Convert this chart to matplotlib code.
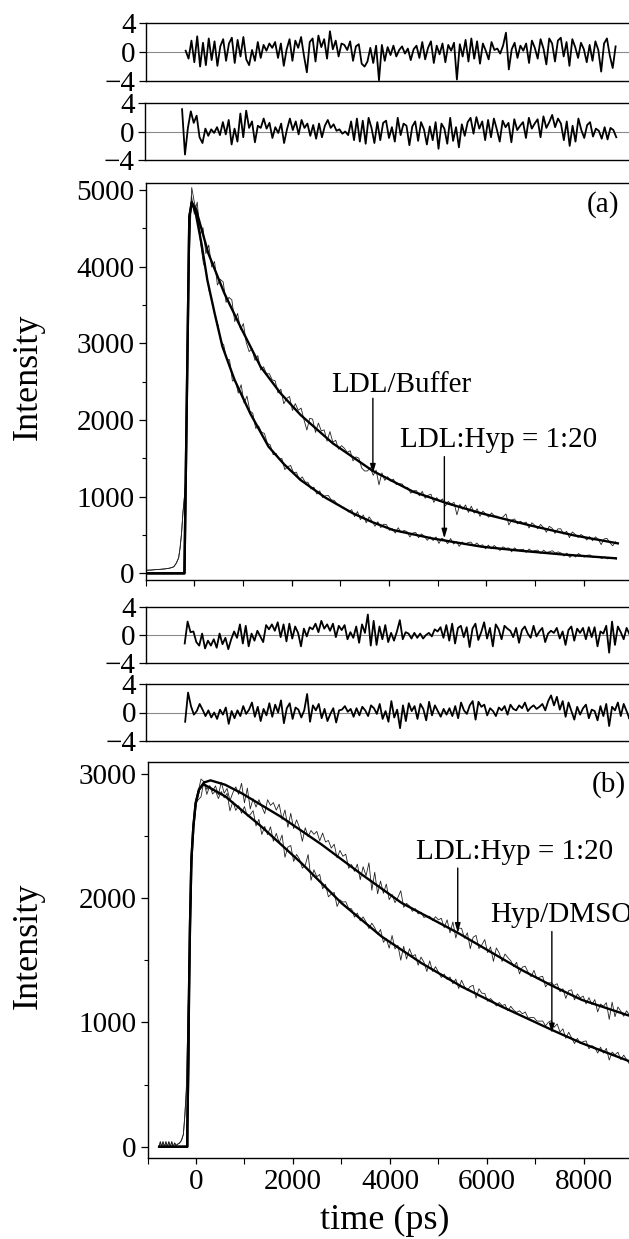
import numpy as np
import matplotlib
matplotlib.use("Agg")
import matplotlib.pyplot as plt
from matplotlib.ticker import MultipleLocator, FixedLocator

plt.rcParams['font.family'] = ['Liberation Serif', 'DejaVu Serif']

# ---------------- data ----------------
# Panel (a): fitted decays (time in ps, intensity in counts)
fit_a_t_upper = [-1000, -200, -100, -50, 41, 290, 620, 949, 1362, 1774, 2186, 2846, 3670, 4496, 5200, 5897, 6900, 7800, 8701]
fit_a_upper = [0, 0, 4650, 4840, 4739, 4174, 3652, 3217, 2696, 2348, 2065, 1696, 1335, 1065, 912, 783, 625, 495, 391]
fit_a_t_lower = [-1000, -200, -100, -50, 30, 150, 270, 420, 580, 830, 1150, 1527, 1850, 2186, 2700, 3259, 3650, 4083, 4900, 5897, 6714, 7600, 8660]
fit_a_lower = [0, 0, 4650, 4840, 4700, 4300, 3826, 3391, 2957, 2522, 2087, 1652, 1420, 1217, 985, 783, 670, 565, 454, 348, 294, 244, 196]
# Panel (a): measured counts before the excitation rise
pre_a_t = [-1000, -900, -800, -700, -600, -500, -420, -370, -320, -290, -260, -230, -200]
pre_a = [40, 42, 48, 52, 58, 68, 85, 130, 200, 330, 520, 800, 1000]

# Weighted residuals, panel (a) (top: LDL/Buffer, second: LDL:Hyp = 1:20)
res1_span = (-175, 8655)
res1 = [0.2, -0.9, 1.6, -1.4, 2.2, -2.0, 1.3, -1.8, 1.9, -1.1,
        1.5, -1.9, 0.8, 1.8, -1.2, 1.2, 2.0, -1.5, 1.7, -0.6,
        2.1, -1.0, -1.8, 0.3, -1.2, 1.4, -0.8, 1.0, 0.2, 1.2,
        0.6, 1.4, -0.8, 1.2, -1.9, 0.4, 1.8, -1.2, 1.6, 0.6,
        2.1, -0.5, -2.8, 1.4, 1.9, -1.3, 2.3, 0.7, 1.8, -0.9,
        2.9, 0.4, 1.6, -0.6, 1.2, 1.0, 0.3, 1.5, -1.2, 0.8,
        1.1, -1.6, -2.0, -1.3, 0.6, -1.5, 0.9, -3.9, 1.0, -1.2,
        0.7, -0.4, 0.9, -0.6, 0.3, 0.8, -0.2, 0.5, -1.1, 0.4,
        0.9, -0.8, 1.4, -1.0, 0.6, 1.5, -1.5, 0.9, -0.3, 1.2,
        -1.4, 1.0, 0.2, 1.3, -3.8, 1.1, -0.6, 1.7, -1.3, 1.9,
        -0.9, 1.5, -1.6, 1.2, 0.2, -1.0, 1.4, 0.3, 0.5, -0.2,
        0.9, 2.7, -2.4, 0.4, 1.3, -0.8, 0.9, 0.2, 1.2, -1.5,
        1.6, 0.6, -0.9, 1.8, 0.5, -1.7, 1.9, 1.2, -1.3, 1.6,
        2.0, -0.6, 1.4, -1.9, 1.8, 0.7, -0.8, 1.3, 0.4, -1.4,
        1.0, -1.2, 1.5, 0.3, -2.7, 1.2, 1.9, -0.5, -2.2, 0.8]
res2_span = (-230, 8670)
res2 = [3.1, -3.2, 0.5, 2.8, 1.2, 2.2, -0.8, -1.6, 0.4, -0.6,
        0.3, -0.2, 0.6, -0.5, 1.3, -0.4, 1.6, -1.8, 0.4, -1.4,
        2.5, -0.8, 2.9, 0.5, 1.4, -1.5, 0.8, 0.5, 1.8, 0.4,
        1.2, -0.9, 0.6, -0.2, 1.1, -1.6, 0.3, 1.8, 0.2, 1.4,
        -0.4, 1.6, 0.5, 1.1, -0.6, 0.9, -1.0, 1.1, -0.8, 0.8,
        1.6, 0.5, 1.0, 0.1, 0.3, -0.3, 0.0, -0.5, 1.4, -1.2,
        1.8, -1.4, 1.5, -1.7, 1.9, 0.5, -1.6, 1.3, -1.2, 1.2,
        1.5, -0.9, 0.6, -1.4, 1.9, -0.5, 1.1, 0.8, -1.9, 0.7,
        1.4, -1.3, 1.3, 0.3, -1.8, 0.7, -1.2, 1.3, -2.4, 1.1,
        0.4, -1.7, 1.9, -1.3, 0.6, -2.2, 1.0, -0.6, 1.3, 1.9,
        -0.3, 2.0, 0.4, 1.4, -1.2, 1.6, -0.8, 1.8, 0.3, -1.4,
        1.5, 0.6, 1.2, -1.5, 1.7, 0.2, 0.8, 1.3, -0.9, 1.9,
        0.4, 1.1, 1.7, -0.8, 2.1, 0.5, 1.3, 2.3, 0.6, 1.8,
        1.1, -1.2, 1.4, -2.0, 0.8, -1.4, 1.8, 0.2, -0.9, 0.9,
        1.3, -0.7, 0.4, 0.1, -1.0, 0.6, -1.1, 0.5, 0.2, -0.8]

# Panel (b): fitted decays
fit_b_t_upper = [-760, -180, -178, -157, -144, -124, -95, -54, -6, 62, 165, 300, 600, 935, 1761, 2588, 3414, 4240, 5397, 6720, 7339, 7958, 9000]
fit_b_upper = [0, 0, 150, 698, 1234, 1770, 2306, 2574, 2763, 2870, 2928, 2945, 2910, 2843, 2650, 2430, 2190, 1960, 1720, 1420, 1295, 1180, 1045]
fit_b_t_lower = [-760, -180, -178, -157, -144, -124, -95, -54, -6, 62, 150, 604, 1348, 2174, 3002, 3827, 4654, 5480, 6306, 7339, 7958, 9000]
fit_b_lower = [0, 0, 150, 698, 1234, 1770, 2306, 2574, 2763, 2870, 2915, 2816, 2574, 2280, 1958, 1690, 1475, 1287, 1126, 939, 832, 678]
pre_b_t = [-760, -735, -710, -680, -650, -620, -590, -560, -530, -500, -470, -440, -410, -380, -340, -300, -260, -230, -200]
pre_b = [0, 40, 0, 40, 0, 40, 0, 40, 0, 40, 0, 30, 10, 20, 30, 50, 100, 250, 450]

# Weighted residuals, panel (b) (third: LDL:Hyp = 1:20, fourth: Hyp/DMSO)
res3_span = (-195, 9000)
res3 = [-1.2, 1.9, 0.4, 0.5, -1.0, -1.5, 0.2, -1.9, -0.8, -1.5,
        -0.6, -1.8, 0.2, -1.3, -0.4, -2.0, -0.6, 0.5, -0.4, 1.5,
        -1.2, 1.3, -1.6, 0.2, -0.8, 0.6, -0.2, -1.0, 1.4, 0.8,
        1.5, 0.6, 1.8, -0.3, 1.5, -0.9, 1.6, -0.5, 1.2, 0.3,
        -1.6, 0.9, -0.2, 1.1, 0.8, 1.6, 0.4, 2.0, 0.9, 1.5,
        0.6, 1.6, -0.3, 1.3, 0.7, 1.4, -0.6, 0.4, -0.4, 1.2,
        -1.1, 1.5, 0.3, 2.9, -1.5, 2.0, -1.4, 1.2, -0.6, 1.4,
        -1.0, 0.3, -0.8, 0.5, 2.1, -0.6, 0.4, 0.2, -0.5, 0.3,
        -0.4, 0.2, -0.5, 0.0, 0.3, -0.2, 0.8, 0.5, 1.1, -0.4,
        1.4, -0.8, 1.6, -1.2, 1.0, 1.3, -0.3, 1.1, -1.7, 0.9,
        1.6, -0.7, 0.4, 1.8, -0.5, 1.0, -1.6, 1.5, 0.8, -0.6,
        1.3, 0.9, 0.6, -0.3, 1.0, -1.1, 0.7, 1.2, 0.2, -0.4,
        1.3, -0.2, 0.5, 1.0, -1.0, 0.2, 0.6, 0.3, 1.0, -0.5,
        0.5, -1.4, 0.7, 1.2, -0.8, 0.9, 0.3, 1.0, -0.6, 1.1,
        -0.3, 1.1, -1.6, 0.5, 0.2, 1.3, -2.5, 1.9, -1.4, 1.2,
        0.4, -0.6, 1.0, 0.1, 0.5]
res4_span = (-195, 9000)
res4 = [-1.3, 2.8, 0.9, -0.3, 0.2, 1.2, 0.4, -0.5, 0.3, -0.7,
        0.0, -0.9, 0.4, -0.3, 0.7, -1.6, 0.2, -0.8, 0.3, -0.5,
        0.9, -0.2, 0.4, 1.4, -0.6, 0.8, -1.2, 0.5, -0.4, 1.3,
        -0.6, 1.1, 0.0, 1.7, -1.5, 0.6, 1.3, -0.9, 0.7, 0.4,
        -0.7, 0.3, 2.6, -1.3, 1.0, 0.3, 1.2, -0.8, 0.5, -1.2,
        -0.2, 0.6, -1.4, 0.3, 0.4, 0.9, 0.1, 0.5, -0.6, 0.6,
        -0.4, 0.8, 0.3, -0.5, 1.0, 0.6, -0.2, 1.2, -0.9, 0.2,
        -1.3, 1.6, -0.7, 0.4, -2.2, 1.0, -1.2, 1.3, 0.2, 0.9,
        -0.9, 1.2, 0.5, -1.1, 1.5, -0.4, 1.0, 0.2, -0.6, 0.5,
        -0.3, 0.6, -0.5, 0.9, -0.8, 1.4, 0.3, -0.2, 1.0, 1.6,
        -1.0, 1.5, 0.8, 1.1, -0.4, 0.6, 0.2, -0.5, 0.7, 0.3,
        0.9, -0.3, 1.1, 0.5, 0.3, 1.0, 0.6, 1.4, 0.2, 0.7,
        1.0, 0.5, 0.8, 1.2, 0.3, 1.6, 2.4, 1.0, 2.2, 0.4,
        1.6, -0.6, 1.4, 0.2, -1.0, 0.8, -0.3, 0.6, 1.1, -0.8,
        0.4, 0.2, -1.1, 0.9, -0.5, 1.2, -1.9, 0.8, 0.3, 1.4,
        -0.5, 1.2, 0.2, -0.9, 0.6]

labels_a = ["LDL/Buffer", "LDL:Hyp = 1:20"]
labels_b = ["LDL:Hyp = 1:20", "Hyp/DMSO"]
x_ticks = [0, 2000, 4000, 6000, 8000]

# ---------------- helpers ----------------
W, H = 629, 1239
X_LEFT, X_RIGHT = -1000, 9000
RIGHT_PX = 632.4
TFS = 21


def add_ax(top, bot, left):
    return fig.add_axes([left / W, 1 - bot / H, (RIGHT_PX - left) / W, (bot - top) / H])


def style(ax):
    for s in ax.spines.values():
        s.set_linewidth(1.0)
        s.set_color('black')
    ax.tick_params(direction='out', length=5, width=0.9, labelsize=TFS, pad=3)
    ax.tick_params(which='minor', direction='out', length=3, width=0.8)
    ax.tick_params(top=False, right=False)
    ax.set_xlim(X_LEFT, X_RIGHT)


def residual_panel(ax, span, res):
    t = np.linspace(span[0], span[1], len(res))
    ax.axhline(0, color='#8a8a8a', lw=0.8, zorder=1)
    ax.plot(t, res, color='black', lw=1.3, zorder=2)
    style(ax)
    ax.set_ylim(-4, 4)
    ax.set_yticks([-4, 0, 4])
    ax.tick_params(axis='x', bottom=False, labelbottom=False)
    ax.tick_params(axis='y', labelsize=TFS, pad=2)


def data_curve(span, res, ft, fv, pre_t, pre_v):
    t = np.linspace(span[0], span[1], len(res))
    fit = np.interp(t, ft, fv)
    keep = fit > 0
    d = fit[keep] + np.array(res)[keep] * np.sqrt(fit[keep])
    return np.concatenate([pre_t, t[keep]]), np.concatenate([pre_v, d])


fig = plt.figure(figsize=(W / 100, H / 100), dpi=100)

ax_r1 = add_ax(23.3, 81.0, 145.5)
ax_r2 = add_ax(102.7, 160.3, 144.5)
ax_a = add_ax(183.3, 580.0, 145.5)
ax_r3 = add_ax(606.7, 663.3, 145.5)
ax_r4 = add_ax(684.0, 741.0, 146.0)
ax_b = add_ax(761.7, 1158.3, 147.5)

residual_panel(ax_r1, res1_span, res1)
residual_panel(ax_r2, res2_span, res2)
residual_panel(ax_r3, res3_span, res3)
residual_panel(ax_r4, res4_span, res4)

# ---- panel (a)
for span, res, ft, fv in [(res1_span, res1, fit_a_t_upper, fit_a_upper),
                          (res2_span, res2, fit_a_t_lower, fit_a_lower)]:
    dt, dv = data_curve(span, res, ft, fv, pre_a_t, pre_a)
    ax_a.plot(dt, dv, color='#222222', lw=0.6, zorder=2)
    ax_a.plot(ft, fv, color='black', lw=1.7, zorder=3)
style(ax_a)
ax_a.set_ylim(-87, 5087)
ax_a.yaxis.set_major_locator(FixedLocator([0, 1000, 2000, 3000, 4000, 5000]))
ax_a.yaxis.set_minor_locator(MultipleLocator(500))
ax_a.xaxis.set_major_locator(FixedLocator(x_ticks))
ax_a.xaxis.set_minor_locator(MultipleLocator(1000))
ax_a.tick_params(axis='x', which='both', length=4, labelbottom=False)
ax_a.text(8400, 4804, "(a)", fontsize=TFS, ha='center', va='center')
ax_a.text(4255, 2457, labels_a[0], fontsize=TFS, ha='center', va='center')
ax_a.text(6261, 1739, labels_a[1], fontsize=TFS, ha='center', va='center')
arrow = dict(arrowstyle='-|>,head_length=0.55,head_width=0.16', color='black', lw=1.0,
             shrinkA=0, shrinkB=0)
ax_a.annotate('', xy=(3670, 1300), xytext=(3670, 2283), arrowprops=arrow)
ax_a.annotate('', xy=(5138, 455), xytext=(5138, 1522), arrowprops=arrow)

# ---- panel (b)
for span, res, ft, fv in [(res3_span, res3, fit_b_t_upper, fit_b_upper),
                          (res4_span, res4, fit_b_t_lower, fit_b_lower)]:
    dt, dv = data_curve(span, res, ft, fv, pre_b_t, pre_b)
    ax_b.plot(dt, dv, color='#222222', lw=0.6, zorder=2)
    ax_b.plot(ft, fv, color='black', lw=1.7, zorder=3)
style(ax_b)
ax_b.set_ylim(-93, 3095)
ax_b.yaxis.set_major_locator(FixedLocator([0, 1000, 2000, 3000]))
ax_b.yaxis.set_minor_locator(MultipleLocator(500))
ax_b.xaxis.set_major_locator(FixedLocator(x_ticks))
ax_b.xaxis.set_minor_locator(MultipleLocator(1000))
ax_b.tick_params(axis='x', which='both', length=4)
ax_b.tick_params(axis='x', which='major', pad=4)
ax_b.text(8517, 2910, "(b)", fontsize=TFS, ha='center', va='center')
ax_b.text(6574, 2373, labels_b[0], fontsize=TFS, ha='center', va='center')
ax_b.text(6059, 1864, labels_b[1], fontsize=TFS, ha='left', va='center')
ax_b.annotate('', xy=(5398, 1720), xytext=(5398, 2240), arrowprops=arrow)
ax_b.annotate('', xy=(7339, 912), xytext=(7339, 1730), arrowprops=arrow)

fig.text(385 / W, 1 - 1220 / H, "time (ps)", fontsize=26, ha='center', va='center')
fig.text(28 / W, 1 - 377 / H, "Intensity", fontsize=26, rotation=90, ha='center', va='center')
fig.text(28 / W, 1 - 946 / H, "Intensity", fontsize=26, rotation=90, ha='center', va='center')

fig.savefig('out.png', dpi=100)
